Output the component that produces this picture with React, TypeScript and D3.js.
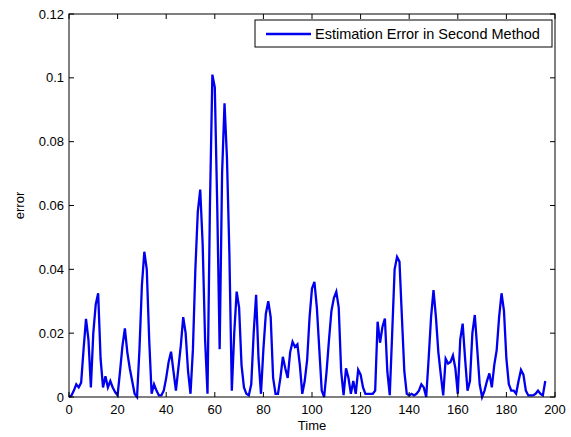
import React from "react";
import * as d3 from "d3";

const width = 571;
const height = 437;
const margin = { top: 14, right: 16, bottom: 40, left: 69 };

// error at each time step, t = 0, 1, 2, ...
const errors = [
  0, 0.0005, 0.002, 0.004, 0.003, 0.0045, 0.015, 0.0245, 0.018, 0.003,
  0.02, 0.029, 0.0325, 0.012, 0.003, 0.0065, 0.003, 0.005, 0.003, 0.0015,
  0.0005, 0.008, 0.016, 0.0215, 0.014, 0.009, 0.005, 0.001, 0, 0.015,
  0.035, 0.0455, 0.04, 0.018, 0.001, 0.004, 0.002, 0.0005, 0.0005, 0.002,
  0.006, 0.011, 0.0142, 0.008, 0.002, 0.009, 0.016, 0.025, 0.02, 0.008,
  0.001, 0.015, 0.04, 0.058, 0.065, 0.048, 0.018, 0.001, 0.06, 0.101,
  0.097, 0.06, 0.015, 0.07, 0.092, 0.075, 0.045, 0.002, 0.02, 0.033,
  0.028, 0.01, 0.003, 0.001, 0.0005, 0.004, 0.02, 0.032, 0.012, 0.001,
  0.015, 0.026, 0.03, 0.025, 0.006, 0.001, 0.001, 0.006, 0.0126, 0.009,
  0.006, 0.014, 0.0173, 0.0157, 0.0165, 0.01, 0.001, 0.005, 0.0116, 0.025,
  0.034, 0.0361, 0.028, 0.015, 0.002, 0, 0.008, 0.018, 0.027, 0.031,
  0.033, 0.028, 0.008, 0.0006, 0.009, 0.006, 0.001, 0.005, 0.001, 0.0085,
  0.007, 0.003, 0.001, 0.001, 0.001, 0.001, 0.002, 0.0236, 0.017, 0.022,
  0.0246, 0.008, 0.0006, 0.02, 0.04, 0.0439, 0.0424, 0.025, 0.008, 0.001,
  0.0005, 0.001, 0.0005, 0.001, 0.002, 0.004, 0.003, 0, 0.012, 0.025,
  0.0335, 0.025, 0.014, 0.007, 0.0005, 0.012, 0.0105, 0.011, 0.013, 0.009,
  0.001, 0.018, 0.023, 0.012, 0.002, 0.005, 0.02, 0.0257, 0.015, 0.004,
  0, 0.002, 0.005, 0.0074, 0.003, 0.01, 0.0147, 0.025, 0.0325, 0.027,
  0.012, 0.004, 0.002, 0.002, 0.001, 0.005, 0.0085, 0.007, 0.002, 0.0005,
  0.0005, 0.0005, 0.001, 0.002, 0.001, 0.0005, 0.005
];

const xTicks = [0, 20, 40, 60, 80, 100, 120, 140, 160, 180, 200];
const yTicks = [0, 0.02, 0.04, 0.06, 0.08, 0.1, 0.12];
const yTickLabels = ["0", "0.02", "0.04", "0.06", "0.08", "0.1", "0.12"];
const legendLabel = "Estimation Error in Second Method";

const font = "Arial, 'Liberation Sans', Helvetica, sans-serif";

export default function App() {
  const x = d3
    .scaleLinear()
    .domain([0, 200])
    .range([margin.left, width - margin.right]);
  const y = d3
    .scaleLinear()
    .domain([0, 0.12])
    .range([height - margin.bottom, margin.top]);

  const line = d3
    .line<number>()
    .x((d, i) => x(i))
    .y((d) => y(d));

  const x0 = x(0);
  const x1 = x(200);
  const y0 = y(0);
  const y1 = y(0.12);
  const tick = 5;

  return (
    <svg
      width={width}
      height={height}
      style={{ position: "absolute", left: 0, top: 0, background: "#fff" }}
    >
      <path
        d={line(errors) || ""}
        fill="none"
        stroke="#0000ee"
        strokeWidth={2.3}
        strokeLinejoin="miter"
      />
      <rect
        x={x0}
        y={y1}
        width={x1 - x0}
        height={y0 - y1}
        fill="none"
        stroke="#000"
        strokeWidth={1}
      />
      {xTicks.map((t) => (
        <g key={"x" + t}>
          <line x1={x(t)} x2={x(t)} y1={y0} y2={y0 - tick} stroke="#000" />
          <line x1={x(t)} x2={x(t)} y1={y1} y2={y1 + tick} stroke="#000" />
          <text
            x={x(t)}
            y={y0 + 17}
            textAnchor="middle"
            fontFamily={font}
            fontSize={13}
            fill="#000"
          >
            {t}
          </text>
        </g>
      ))}
      {yTicks.map((t, i) => (
        <g key={"y" + t}>
          <line x1={x0} x2={x0 + tick} y1={y(t)} y2={y(t)} stroke="#000" />
          <line x1={x1} x2={x1 - tick} y1={y(t)} y2={y(t)} stroke="#000" />
          <text
            x={x0 - 5}
            y={y(t) + 4.5}
            textAnchor="end"
            fontFamily={font}
            fontSize={13}
            fill="#000"
          >
            {yTickLabels[i]}
          </text>
        </g>
      ))}
      <text
        x={(x0 + x1) / 2}
        y={y0 + 33}
        textAnchor="middle"
        fontFamily={font}
        fontSize={13}
        fill="#000"
      >
        Time
      </text>
      <text
        transform={`translate(24,${(y0 + y1) / 2}) rotate(-90)`}
        textAnchor="middle"
        fontFamily={font}
        fontSize={13}
        fill="#000"
      >
        error
      </text>
      <g>
        <rect x={255} y={20} width={297} height={27} fill="#fff" stroke="#000" />
        <line x1={266} x2={311} y1={34} y2={34} stroke="#0000ee" strokeWidth={2.3} />
        <text x={315} y={39} fontFamily={font} fontSize={14.5} fill="#000">
          {legendLabel}
        </text>
      </g>
    </svg>
  );
}
